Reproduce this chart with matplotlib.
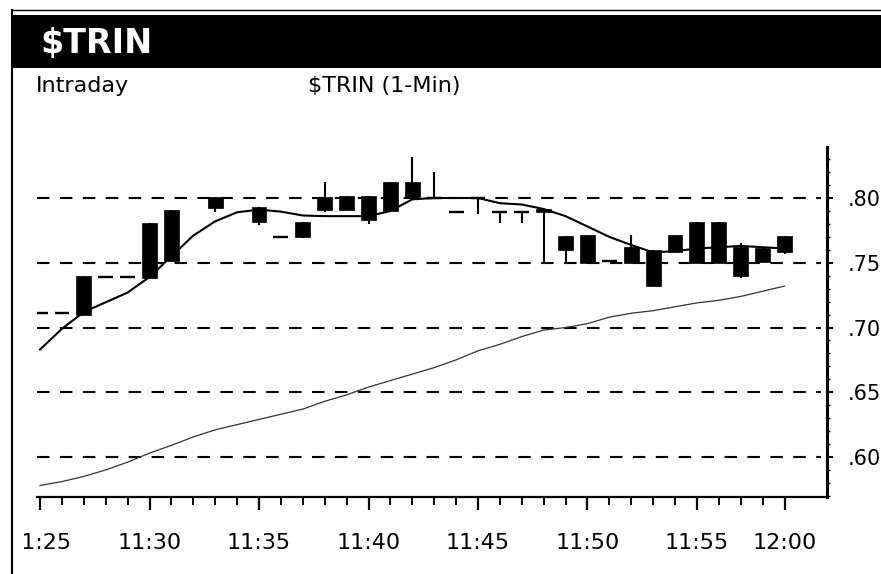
import matplotlib
matplotlib.use('Agg')
import matplotlib.pyplot as plt
from matplotlib.patches import Rectangle
from matplotlib.lines import Line2D
from matplotlib.transforms import Bbox, TransformedBbox

# ---- data (one bar per minute, 11:25 .. 12:00 as shown; None = no visible bar) ----
bar_index = list(range(35))
opens  = [0.711, 0.711, 0.710, 0.739, 0.739, 0.738, 0.751, None, 0.792, None,
          0.793, 0.770, 0.770, 0.791, 0.791, 0.8015, 0.790, 0.801, 0.800, 0.789,
          0.800, 0.789, 0.789, 0.7915, 0.7707, 0.7714, 0.751, 0.750, 0.760, 0.758,
          0.750, 0.7815, 0.762, 0.7614, 0.758]
closes = [0.711, 0.711, 0.740, 0.739, 0.739, 0.781, 0.791, None, 0.801, None,
          0.7815, 0.770, 0.7815, 0.801, 0.8015, 0.783, 0.8124, 0.8124, 0.800, 0.789,
          0.800, 0.789, 0.789, 0.789, 0.760, 0.750, 0.751, 0.762, 0.732, 0.7714,
          0.7815, 0.750, 0.740, 0.7506, 0.7707]
highs  = [0.711, 0.711, 0.740, 0.739, 0.739, 0.781, 0.791, None, 0.801, None,
          0.793, 0.770, 0.7815, 0.8124, 0.8015, 0.8015, 0.8124, 0.832, 0.820, 0.789,
          0.800, 0.789, 0.789, 0.7915, 0.7707, 0.7714, 0.751, 0.7714, 0.760, 0.7714,
          0.7815, 0.7815, 0.765, 0.7614, 0.7707]
lows   = [0.711, 0.711, 0.710, 0.739, 0.739, 0.738, 0.751, None, 0.789, None,
          0.779, 0.770, 0.769, 0.789, 0.791, 0.780, 0.790, 0.801, 0.800, 0.789,
          0.788, 0.781, 0.781, 0.750, 0.750, 0.750, 0.751, 0.750, 0.732, 0.758,
          0.750, 0.750, 0.738, 0.7506, 0.757]
ma_fast = [0.683, 0.699, 0.712, 0.7195, 0.727, 0.739, 0.755, 0.771, 0.782, 0.789,
           0.791, 0.7895, 0.7865, 0.786, 0.786, 0.786, 0.790, 0.799, 0.800, 0.800,
           0.800, 0.796, 0.795, 0.7915, 0.786, 0.778, 0.770, 0.7637, 0.758, 0.759,
           0.761, 0.762, 0.763, 0.762, 0.761]
ma_slow = [0.578, 0.581, 0.585, 0.590, 0.596, 0.603, 0.609, 0.6155, 0.621, 0.625,
           0.629, 0.633, 0.637, 0.643, 0.648, 0.654, 0.659, 0.664, 0.669, 0.675,
           0.682, 0.687, 0.693, 0.698, 0.700, 0.703, 0.708, 0.711, 0.713, 0.716,
           0.719, 0.721, 0.724, 0.728, 0.732]
ytick_values = [0.60, 0.65, 0.70, 0.75, 0.80]
ytick_labels = ['.60', '.65', '.70', '.75', '.80']
xtick_positions = [0, 5, 10, 15, 20, 25, 30, 34]
xtick_labels = ['11:25', '11:30', '11:35', '11:40', '11:45', '11:50', '11:55', '12:00']
title_text = '$TRIN'
left_caption = 'Intraday'
center_caption = '$TRIN (1-Min)'

W, H = 881, 574
fig = plt.figure(figsize=(W / 100, H / 100), dpi=100)
fig.patch.set_facecolor('white')

def fx(px):
    return px / W

def fy(py):
    return 1 - py / H

# outer frame lines
fig.add_artist(Line2D([fx(12), fx(12)], [fy(10), fy(574)], color='black', lw=1.5,
                      transform=fig.transFigure))
fig.add_artist(Line2D([fx(12), 1.0], [fy(10), fy(10)], color='black', lw=1.0,
                      transform=fig.transFigure))
# black title bar
fig.add_artist(Rectangle((fx(13), fy(68)), 1 - fx(13), fy(15) - fy(68),
                         facecolor='black', edgecolor='none', transform=fig.transFigure))
fig.text(fx(40), fy(43), title_text, color='white', fontsize=24, fontweight='bold',
         family='DejaVu Sans', va='center', ha='left')
fig.text(fx(36), fy(86), left_caption, color='black', fontsize=16,
         family='DejaVu Sans', va='center', ha='left')
fig.text(fx(308), fy(86), center_caption, color='black', fontsize=16,
         family='DejaVu Sans', va='center', ha='left')

# axes
ax_left, ax_right, ax_top, ax_bottom = 37, 827, 147, 497
ax = fig.add_axes([fx(ax_left), fy(ax_bottom), fx(ax_right) - fx(ax_left),
                   fy(ax_top) - fy(ax_bottom)])
ax.set_facecolor('white')
ax.set_xlim(-0.14, 35.94)
ax.set_ylim(0.5691, 0.8394)

for s in ['left', 'top']:
    ax.spines[s].set_visible(False)
ax.spines['right'].set_linewidth(2.2)
ax.spines['bottom'].set_linewidth(1.6)

# grid lines
for v in ytick_values:
    ax.axhline(v, xmin=0, xmax=0.993, color='black', lw=1.5,
               linestyle=(0, (6, 5)), zorder=1)

# slow line
ax.plot(bar_index, ma_slow, color='#333333', lw=0.9, zorder=2)
# fast moving average
ax.plot(bar_index, ma_fast, color='black', lw=1.5, zorder=3)

# candles
body_w = 0.68
for i, o, h, l, c in zip(bar_index, opens, highs, lows, closes):
    if o is None:
        continue
    if h > l:
        ax.vlines(i, l, h, color='black', lw=1.5, zorder=4)
    top, bot = max(o, c), min(o, c)
    if top - bot < 0.0015:
        ax.hlines(top, i - body_w / 2, i + body_w / 2, color='black', lw=1.7, zorder=4)
    else:
        ax.add_patch(Rectangle((i - body_w / 2, bot), body_w, top - bot,
                               facecolor='black', edgecolor='black', lw=0.5, zorder=4))

# y axis on the right
ax.yaxis.tick_right()
ax.set_yticks(ytick_values)
ax.set_yticklabels(ytick_labels)
ax.yaxis.set_minor_locator(matplotlib.ticker.MultipleLocator(0.01))
ax.tick_params(axis='y', which='major', direction='out', length=4, width=1.5,
               pad=11, labelsize=15, colors='black')
ax.tick_params(axis='y', which='minor', direction='out', length=2, width=1.0)
for t in ax.get_yticklabels():
    t.set_family('DejaVu Sans')

# x axis
ax.set_xticks(xtick_positions)
ax.set_xticklabels(xtick_labels)
ax.set_xticks(bar_index, minor=True)
ax.tick_params(axis='x', which='major', direction='out', length=9, width=1.6,
               pad=17, labelsize=16, colors='black')
ax.tick_params(axis='x', which='minor', direction='out', length=6, width=1.4)
for t in ax.get_xticklabels():
    t.set_family('DejaVu Sans')

# first label is cut by the frame, as in the source
first = ax.get_xticklabels()[0]
first.set_clip_box(TransformedBbox(Bbox([[fx(24), 0], [1, 1]]), fig.transFigure))
first.set_clip_on(True)

fig.savefig('out.png', dpi=100, facecolor='white')
